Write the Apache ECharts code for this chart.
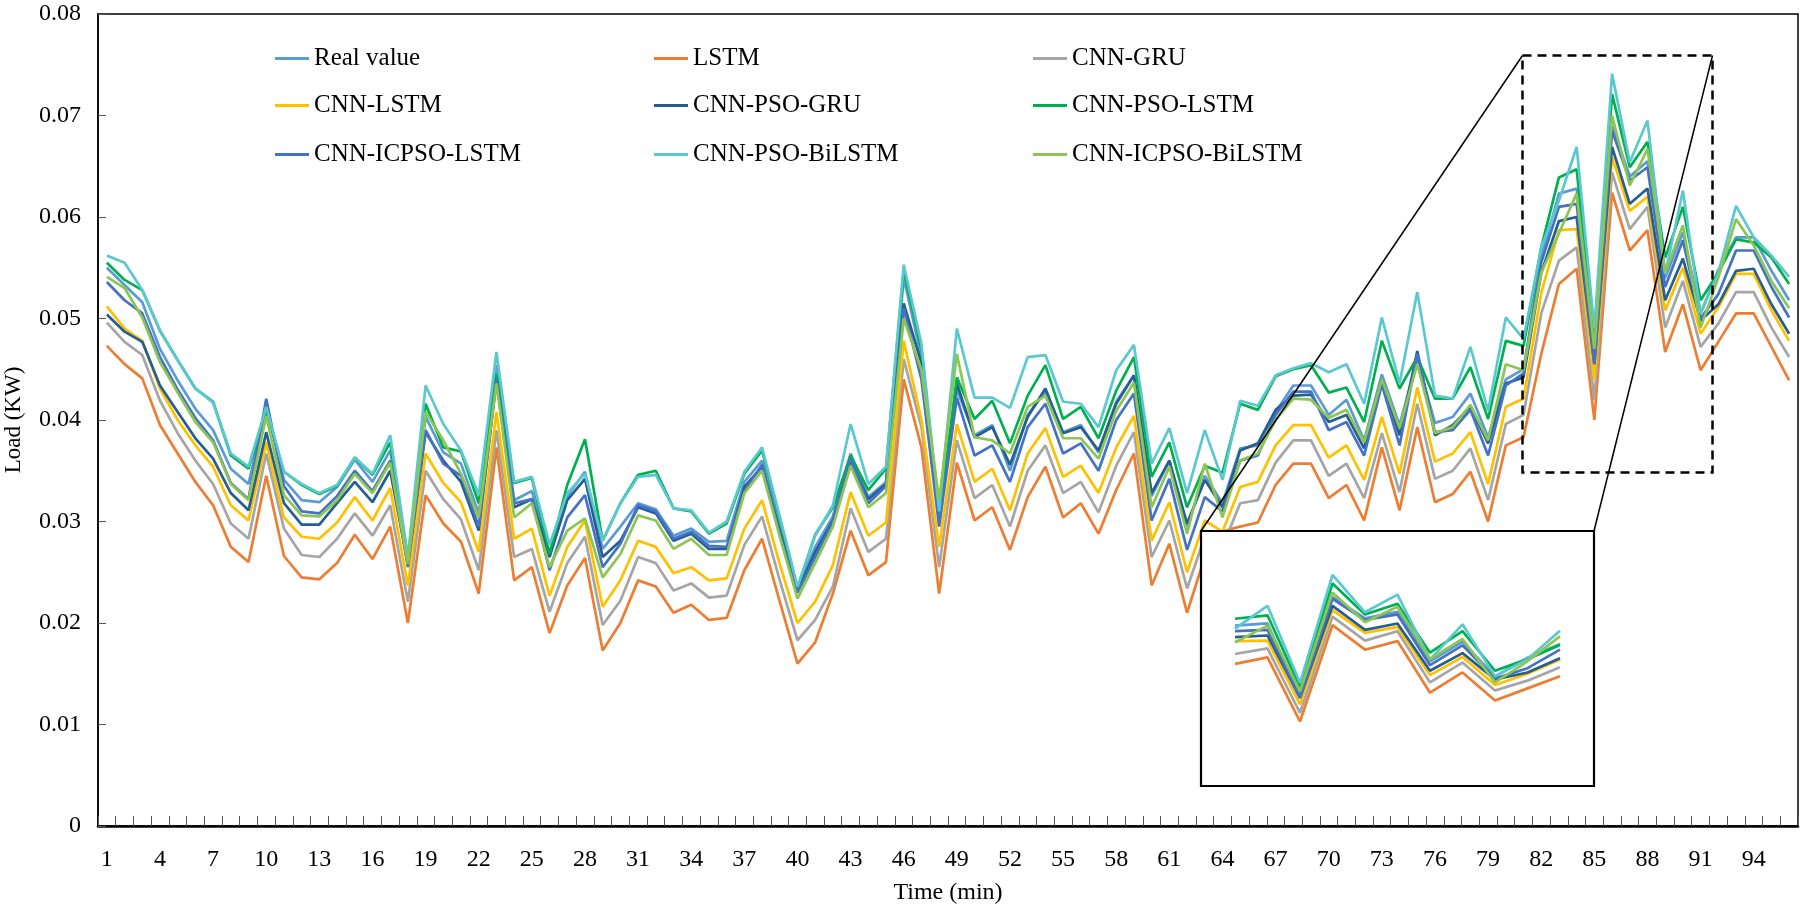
<!DOCTYPE html>
<html>
<head>
<meta charset="utf-8">
<script src="https://cdn.jsdelivr.net/npm/echarts@6/dist/echarts.min.js"></script>
<style>html,body{margin:0;padding:0;background:#fff;}#c{width:1802px;height:907px;}</style>
</head>
<body>
<div id="c"></div>
<script>
// ---- data ----
const categories = Array.from({length: 96}, (_, i) => String(i + 1));
const yTicks = [0, 0.01, 0.02, 0.03, 0.04, 0.05, 0.06, 0.07, 0.08];
const seriesNames = ['Real value','LSTM','CNN-GRU','CNN-LSTM','CNN-PSO-GRU','CNN-PSO-LSTM','CNN-ICPSO-LSTM','CNN-PSO-BiLSTM','CNN-ICPSO-BiLSTM'];

const realValue = [0.0550,0.0533,0.0516,0.0470,0.0439,0.0411,0.0390,0.0352,0.0337,0.0415,0.0341,0.0321,0.0319,0.0334,0.0361,0.0339,0.0370,0.0260,0.0403,0.0368,0.0357,0.0308,0.0454,0.0321,0.0330,0.0268,0.0325,0.0349,0.0273,0.0295,0.0318,0.0312,0.0286,0.0293,0.0280,0.0281,0.0339,0.0360,0.0295,0.0233,0.0275,0.0305,0.0367,0.0324,0.0339,0.0540,0.0462,0.0300,0.0430,0.0385,0.0395,0.0350,0.0405,0.0428,0.0388,0.0395,0.0368,0.0418,0.0444,0.0325,0.0360,0.0295,0.0345,0.0318,0.0372,0.0375,0.0408,0.0434,0.0434,0.0405,0.0420,0.0380,0.0445,0.0395,0.0460,0.0397,0.0403,0.0426,0.0383,0.0440,0.0450,0.0560,0.0623,0.0628,0.0460,0.0690,0.0640,0.0655,0.0540,0.0585,0.0505,0.0548,0.0580,0.0580,0.0547,0.0518];
const lstm = [0.0473,0.0455,0.0441,0.0395,0.0367,0.0339,0.0316,0.0275,0.0260,0.0345,0.0266,0.0245,0.0243,0.0259,0.0287,0.0263,0.0295,0.0200,0.0326,0.0298,0.0280,0.0229,0.0373,0.0242,0.0255,0.0190,0.0237,0.0264,0.0173,0.0200,0.0242,0.0236,0.0210,0.0218,0.0203,0.0205,0.0252,0.0283,0.0221,0.0160,0.0181,0.0229,0.0291,0.0247,0.0260,0.0440,0.0373,0.0229,0.0358,0.0301,0.0314,0.0272,0.0324,0.0354,0.0304,0.0318,0.0288,0.0331,0.0367,0.0237,0.0278,0.0210,0.0265,0.0290,0.0295,0.0299,0.0336,0.0357,0.0357,0.0323,0.0336,0.0301,0.0373,0.0311,0.0393,0.0319,0.0327,0.0349,0.0300,0.0375,0.0383,0.0465,0.0534,0.0549,0.0400,0.0624,0.0567,0.0587,0.0467,0.0514,0.0449,0.0477,0.0505,0.0505,0.0472,0.0439];
const cnnGru = [0.0496,0.0477,0.0464,0.0419,0.0387,0.0360,0.0337,0.0298,0.0283,0.0367,0.0293,0.0267,0.0265,0.0283,0.0308,0.0286,0.0316,0.0221,0.0350,0.0322,0.0302,0.0252,0.0390,0.0265,0.0273,0.0211,0.0259,0.0285,0.0198,0.0222,0.0265,0.0259,0.0232,0.0239,0.0225,0.0227,0.0277,0.0305,0.0242,0.0183,0.0203,0.0236,0.0313,0.0270,0.0283,0.0460,0.0393,0.0255,0.0380,0.0323,0.0336,0.0295,0.0350,0.0375,0.0328,0.0339,0.0309,0.0355,0.0388,0.0265,0.0301,0.0234,0.0285,0.0275,0.0318,0.0321,0.0358,0.0380,0.0380,0.0345,0.0357,0.0323,0.0387,0.0329,0.0416,0.0342,0.0350,0.0372,0.0321,0.0396,0.0405,0.0505,0.0557,0.0570,0.0420,0.0644,0.0588,0.0610,0.0491,0.0537,0.0472,0.0495,0.0526,0.0526,0.0491,0.0462];
const cnnLstm = [0.0512,0.0490,0.0478,0.0431,0.0400,0.0375,0.0354,0.0316,0.0301,0.0378,0.0304,0.0285,0.0283,0.0299,0.0324,0.0301,0.0333,0.0237,0.0367,0.0338,0.0319,0.0270,0.0408,0.0283,0.0293,0.0227,0.0275,0.0301,0.0216,0.0242,0.0281,0.0275,0.0249,0.0255,0.0242,0.0244,0.0293,0.0321,0.0258,0.0200,0.0221,0.0257,0.0329,0.0286,0.0299,0.0478,0.0400,0.0275,0.0396,0.0339,0.0352,0.0311,0.0367,0.0392,0.0344,0.0355,0.0328,0.0373,0.0404,0.0281,0.0319,0.0250,0.0301,0.0290,0.0334,0.0339,0.0375,0.0395,0.0395,0.0363,0.0375,0.0341,0.0403,0.0347,0.0432,0.0359,0.0367,0.0388,0.0337,0.0413,0.0421,0.0525,0.0587,0.0588,0.0440,0.0659,0.0606,0.0620,0.0508,0.0550,0.0485,0.0511,0.0544,0.0544,0.0508,0.0478];
const cnnPsoGru = [0.0504,0.0487,0.0477,0.0434,0.0408,0.0382,0.0362,0.0328,0.0311,0.0388,0.0318,0.0297,0.0297,0.0318,0.0339,0.0319,0.0350,0.0258,0.0388,0.0360,0.0339,0.0291,0.0439,0.0314,0.0322,0.0265,0.0321,0.0342,0.0265,0.0281,0.0314,0.0308,0.0281,0.0288,0.0273,0.0273,0.0334,0.0354,0.0290,0.0231,0.0270,0.0301,0.0360,0.0322,0.0337,0.0515,0.0456,0.0301,0.0436,0.0383,0.0393,0.0356,0.0403,0.0431,0.0387,0.0393,0.0370,0.0416,0.0444,0.0328,0.0360,0.0298,0.0341,0.0314,0.0370,0.0377,0.0410,0.0424,0.0425,0.0398,0.0405,0.0372,0.0440,0.0385,0.0468,0.0385,0.0395,0.0413,0.0377,0.0436,0.0442,0.0545,0.0596,0.0600,0.0455,0.0669,0.0613,0.0628,0.0518,0.0559,0.0498,0.0514,0.0547,0.0549,0.0514,0.0485];
const cnnPsoLstm = [0.0555,0.0538,0.0528,0.0488,0.0459,0.0431,0.0418,0.0365,0.0352,0.0409,0.0349,0.0336,0.0327,0.0335,0.0363,0.0346,0.0378,0.0262,0.0416,0.0373,0.0369,0.0318,0.0445,0.0338,0.0343,0.0268,0.0336,0.0381,0.0281,0.0318,0.0346,0.0350,0.0313,0.0310,0.0288,0.0298,0.0347,0.0370,0.0303,0.0234,0.0287,0.0314,0.0365,0.0331,0.0352,0.0548,0.0470,0.0305,0.0442,0.0401,0.0419,0.0377,0.0424,0.0454,0.0401,0.0413,0.0382,0.0429,0.0462,0.0344,0.0378,0.0314,0.0355,0.0348,0.0416,0.0410,0.0443,0.0450,0.0454,0.0427,0.0432,0.0398,0.0478,0.0431,0.0462,0.0421,0.0421,0.0452,0.0401,0.0478,0.0473,0.0570,0.0639,0.0647,0.0480,0.0721,0.0649,0.0674,0.0560,0.0610,0.0518,0.0545,0.0578,0.0575,0.0560,0.0534];
const cnnIcpsoLstm = [0.0536,0.0518,0.0505,0.0462,0.0430,0.0402,0.0380,0.0338,0.0322,0.0421,0.0335,0.0310,0.0308,0.0325,0.0350,0.0330,0.0360,0.0255,0.0390,0.0357,0.0345,0.0295,0.0440,0.0318,0.0322,0.0252,0.0304,0.0326,0.0255,0.0278,0.0316,0.0310,0.0283,0.0290,0.0276,0.0275,0.0330,0.0356,0.0287,0.0230,0.0265,0.0300,0.0362,0.0318,0.0335,0.0510,0.0440,0.0295,0.0422,0.0365,0.0375,0.0339,0.0393,0.0416,0.0367,0.0377,0.0350,0.0400,0.0426,0.0301,0.0342,0.0272,0.0324,0.0310,0.0360,0.0365,0.0405,0.0428,0.0428,0.0390,0.0398,0.0365,0.0435,0.0375,0.0465,0.0388,0.0390,0.0410,0.0365,0.0434,0.0446,0.0555,0.0610,0.0613,0.0455,0.0685,0.0636,0.0649,0.0531,0.0577,0.0500,0.0524,0.0567,0.0567,0.0531,0.0501];
const cnnPsoBiLstm = [0.0562,0.0555,0.0528,0.0488,0.0459,0.0431,0.0417,0.0367,0.0354,0.0413,0.0349,0.0337,0.0328,0.0336,0.0363,0.0347,0.0385,0.0265,0.0434,0.0396,0.0370,0.0326,0.0467,0.0339,0.0344,0.0277,0.0328,0.0347,0.0281,0.0318,0.0344,0.0346,0.0313,0.0311,0.0289,0.0300,0.0349,0.0373,0.0305,0.0236,0.0286,0.0316,0.0396,0.0337,0.0354,0.0553,0.0475,0.0310,0.0490,0.0422,0.0422,0.0412,0.0462,0.0464,0.0418,0.0416,0.0393,0.0449,0.0474,0.0357,0.0392,0.0328,0.0390,0.0341,0.0419,0.0414,0.0444,0.0451,0.0456,0.0447,0.0455,0.0416,0.0501,0.0436,0.0526,0.0424,0.0421,0.0472,0.0409,0.0501,0.0480,0.0570,0.0616,0.0669,0.0490,0.0741,0.0654,0.0695,0.0544,0.0626,0.0505,0.0545,0.0611,0.0580,0.0562,0.0541];
const cnnIcpsoBiLstm = [0.0541,0.0530,0.0501,0.0457,0.0427,0.0398,0.0378,0.0337,0.0321,0.0404,0.0326,0.0306,0.0305,0.0321,0.0347,0.0328,0.0358,0.0258,0.0408,0.0380,0.0347,0.0304,0.0436,0.0304,0.0318,0.0255,0.0291,0.0303,0.0245,0.0268,0.0306,0.0301,0.0273,0.0283,0.0267,0.0267,0.0328,0.0350,0.0285,0.0224,0.0259,0.0295,0.0355,0.0314,0.0328,0.0500,0.0449,0.0321,0.0465,0.0383,0.0380,0.0367,0.0413,0.0424,0.0382,0.0382,0.0362,0.0409,0.0437,0.0314,0.0354,0.0288,0.0357,0.0304,0.0360,0.0367,0.0400,0.0421,0.0420,0.0402,0.0410,0.0378,0.0440,0.0392,0.0455,0.0387,0.0393,0.0415,0.0380,0.0455,0.0449,0.0545,0.0584,0.0623,0.0470,0.0700,0.0631,0.0667,0.0545,0.0592,0.0491,0.0540,0.0598,0.0572,0.0537,0.0510];

// zoomed window shown in the inset (1-based time indices)
const insetFrom = 83, insetTo = 93;

// ---- styling ----
const colors = ['#5B9BD5','#ED7D31','#A5A5A5','#FFC000','#255E91','#00B050','#4472C4','#5BC8D0','#8CC652'];
const seriesData = [realValue, lstm, cnnGru, cnnLstm, cnnPsoGru, cnnPsoLstm, cnnIcpsoLstm, cnnPsoBiLstm, cnnIcpsoBiLstm];
const FONT = 'Liberation Serif';

const chart = echarts.init(document.getElementById('c'), null, {renderer: 'canvas'});

const legendCols = [270, 649, 1028];
const legendRows = [41, 88, 137];
const legends = seriesNames.map((n, i) => ({
  data: [{name: n, icon: 'rect'}],
  left: legendCols[i % 3],
  top: legendRows[Math.floor(i / 3)],
  itemWidth: 34, itemHeight: 3, itemGap: 6,
  textStyle: {fontFamily: FONT, fontSize: 25, color: '#000'},
  selectedMode: false
}));

const mainSeries = seriesNames.map((n, i) => ({
  name: n, type: 'line', xAxisIndex: 0, yAxisIndex: 0,
  data: seriesData[i], symbol: 'none', z: 2,
  lineStyle: {width: 2.7, color: colors[i]}, itemStyle: {color: colors[i]}
}));
const insetCats = categories.slice(insetFrom - 1, insetTo);
const insetSeries = seriesNames.map((n, i) => ({
  name: n, type: 'line', xAxisIndex: 1, yAxisIndex: 1,
  data: seriesData[i].slice(insetFrom - 1, insetTo), symbol: 'none', z: 30,
  lineStyle: {width: 2.7, color: colors[i]}, itemStyle: {color: colors[i]}
}));

chart.setOption({
  animation: false,
  backgroundColor: '#fff',
  color: colors,
  legend: legends,
  grid: [
    {left: 98, right: 4, top: 14, bottom: 81, containLabel: false, outerBoundsMode: 'none',
      show: true, borderColor: '#000', borderWidth: 1.5, backgroundColor: 'transparent'},
    {left: 1235, width: 325, top: 531, height: 255, containLabel: false, outerBoundsMode: 'none', show: false}
  ],
  xAxis: [{
    type: 'category', gridIndex: 0, data: categories, boundaryGap: true,
    name: 'Time (min)', nameLocation: 'middle', nameGap: 55,
    nameTextStyle: {fontFamily: FONT, fontSize: 24, color: '#000'},
    axisLine: {show: true, lineStyle: {color: '#000', width: 2.5}},
    axisTick: {show: true, inside: true, length: 10, interval: 0, alignWithLabel: false,
      lineStyle: {color: '#555', width: 1}},
    axisLabel: {show: true, interval: 2, margin: 22, fontFamily: FONT, fontSize: 24, color: '#000'},
    splitLine: {show: false}
  }, {
    type: 'category', gridIndex: 1, data: insetCats, boundaryGap: false, show: false
  }],
  yAxis: [{
    type: 'value', gridIndex: 0, min: yTicks[0], max: yTicks[yTicks.length - 1], interval: 0.01,
    name: 'Load (KW)', nameLocation: 'middle', nameGap: 73,
    nameTextStyle: {fontFamily: FONT, fontSize: 23, color: '#000'},
    axisLine: {show: true, lineStyle: {color: '#000', width: 1.5}},
    axisTick: {show: true, inside: true, length: 8, lineStyle: {color: '#555', width: 1}},
    axisLabel: {show: true, margin: 17, fontFamily: FONT, fontSize: 24, color: '#000',
      formatter: v => v === 0 ? '0' : v.toFixed(2)},
    splitLine: {show: false}
  }, {
    type: 'value', gridIndex: 1, min: 0.025, max: 0.0843, show: false, splitLine: {show: false}
  }],
  series: mainSeries.concat(insetSeries),
  graphic: [
    {type: 'rect', z: 20, shape: {x: 1201, y: 531, width: 393, height: 255},
      style: {fill: '#fff', stroke: '#000', lineWidth: 2.2}},
    {type: 'rect', z: 20, shape: {x: 1522.5, y: 55.5, width: 190, height: 417},
      style: {fill: 'none', stroke: '#000', lineWidth: 2.5, lineDash: [9, 6]}},
    {type: 'line', z: 20, shape: {x1: 1522.5, y1: 55.5, x2: 1201, y2: 531},
      style: {stroke: '#000', lineWidth: 1.5}},
    {type: 'line', z: 20, shape: {x1: 1712.5, y1: 55.5, x2: 1594, y2: 531},
      style: {stroke: '#000', lineWidth: 1.5}}
  ]
});
</script>
</body>
</html>
